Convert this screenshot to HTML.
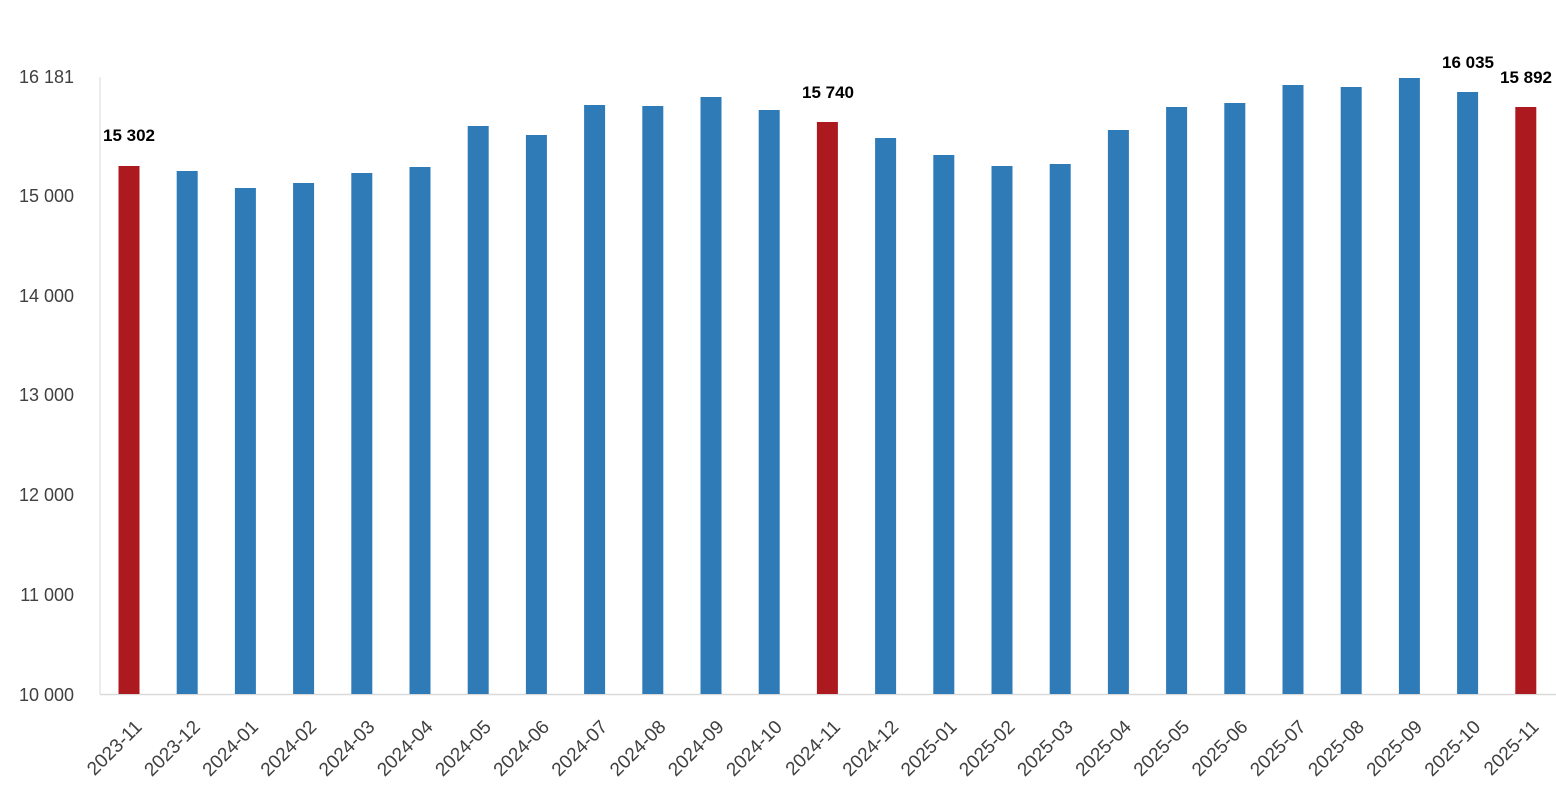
<!DOCTYPE html>
<html><head><meta charset="utf-8"><style>
html,body{margin:0;padding:0;background:#fff}
svg{display:block}
text{font-family:"Liberation Sans",Arial,sans-serif}
</style></head><body>
<svg width="1556" height="800" viewBox="0 0 1556 800" xmlns="http://www.w3.org/2000/svg">
<line x1="100" y1="77" x2="100" y2="694" stroke="#d9d9d9" stroke-width="1"/>
<line x1="100" y1="694.5" x2="1556" y2="694.5" stroke="#d9d9d9" stroke-width="1.5"/>
<g font-size="18" fill="#404040" text-anchor="end">
<text x="74" y="83">16 181</text>
<text x="74" y="202">15 000</text>
<text x="74" y="302">14 000</text>
<text x="74" y="401">13 000</text>
<text x="74" y="501">12 000</text>
<text x="74" y="601">11 000</text>
<text x="74" y="701">10 000</text>
</g>
<g id="bars"></g>
<g id="xl" font-size="19" fill="#404040" text-anchor="end"></g>
<g font-size="17" font-weight="bold" fill="#000" text-anchor="middle">
<text x="129" y="141">15 302</text>
<text x="828" y="98">15 740</text>
<text x="1468" y="68">16 035</text>
<text x="1526" y="83">15 892</text>
</g>
<script>
var tops=[166,171,188,183,173,167,126,135,105,106,97,110,122,138,155,166,164,130,107,103,85,87,78,92,107];
var labs=["2023-11","2023-12","2024-01","2024-02","2024-03","2024-04","2024-05","2024-06","2024-07","2024-08","2024-09","2024-10","2024-11","2024-12","2025-01","2025-02","2025-03","2025-04","2025-05","2025-06","2025-07","2025-08","2025-09","2025-10","2025-11"];
var ns="http://www.w3.org/2000/svg",b=document.getElementById("bars"),xl=document.getElementById("xl");
for(var i=0;i<25;i++){var cx=129+i*58.2;var r=document.createElementNS(ns,"rect");
r.setAttribute("x",cx-10.5);r.setAttribute("y",tops[i]);r.setAttribute("width",21);r.setAttribute("height",694-tops[i]);
r.setAttribute("fill",(i==0||i==12||i==24)?"#ac1a1f":"#2e7bb8");b.appendChild(r);
var t=document.createElementNS(ns,"text");t.setAttribute("transform","translate("+(cx+14)+",728) rotate(-45)");t.textContent=labs[i];xl.appendChild(t);}
</script>
</svg>
</body></html>
